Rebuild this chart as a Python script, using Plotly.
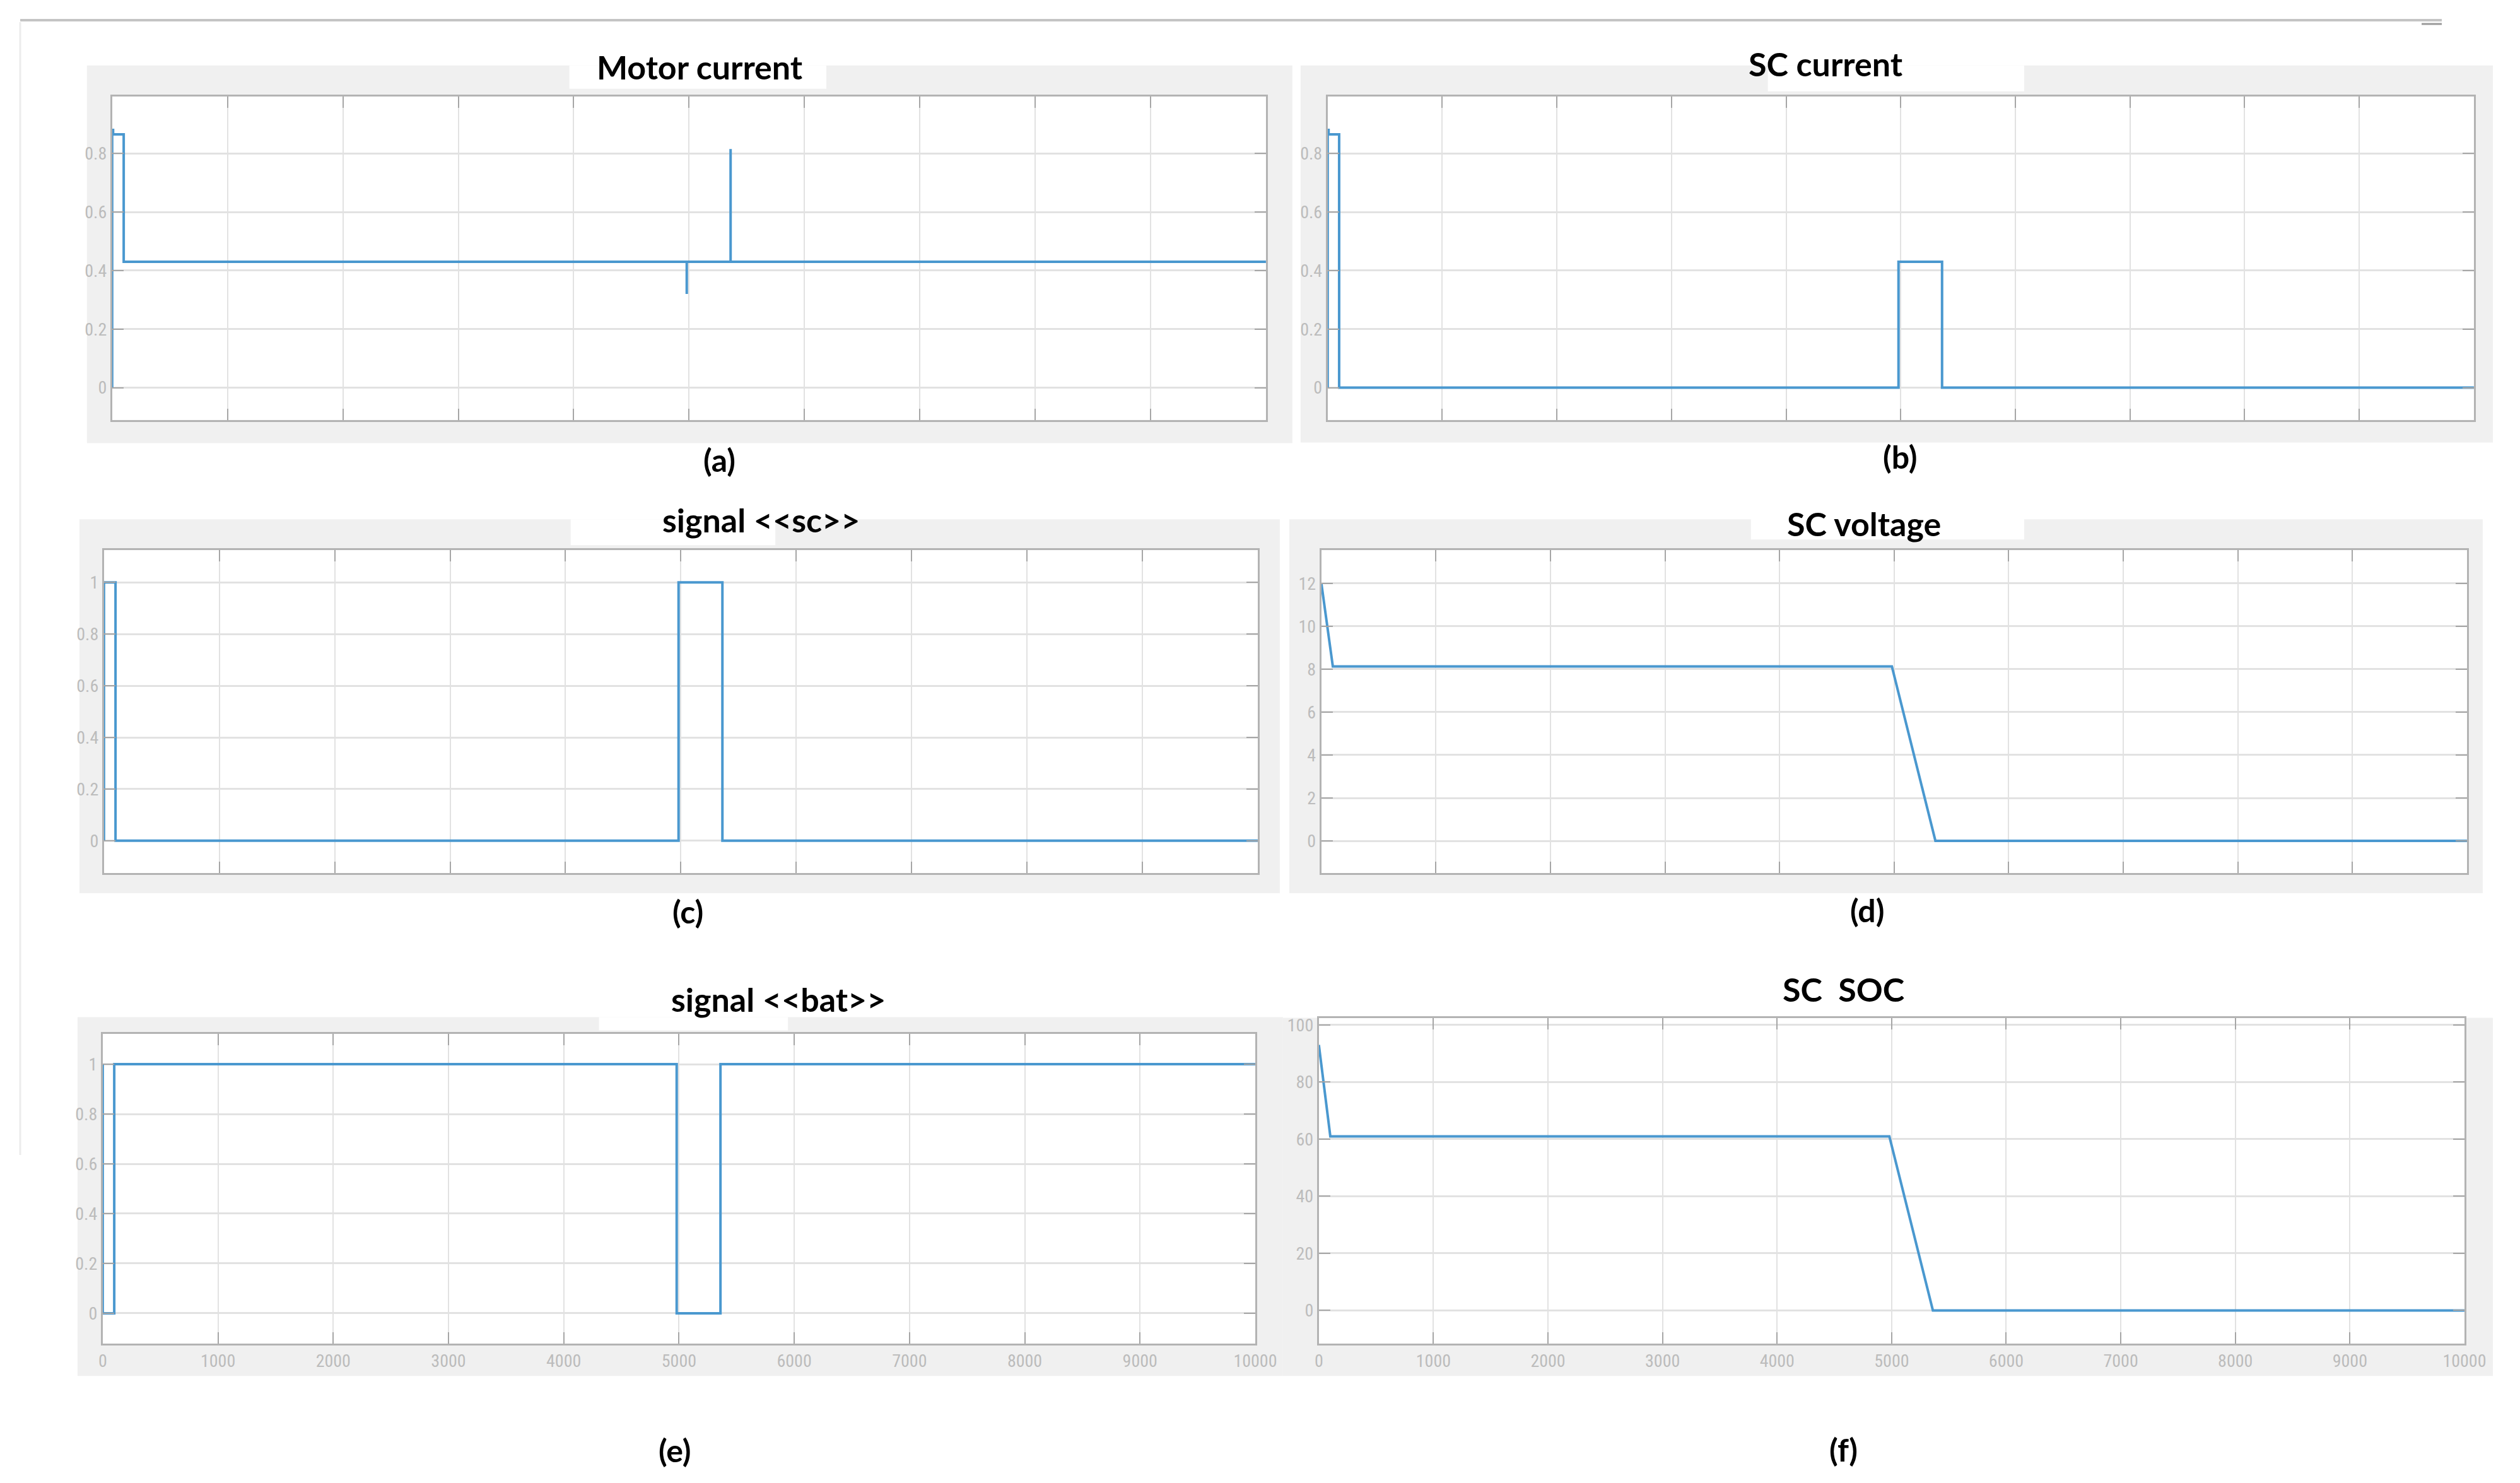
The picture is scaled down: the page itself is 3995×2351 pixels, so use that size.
import plotly.graph_objects as go

W, H = 3995, 2351
PAGE_MARGIN = 8  # default body margin of the html page
FW, FH = W - 2 * PAGE_MARGIN, H - 2 * PAGE_MARGIN
X_SQUEEZE = 0.991  # measured horizontal squeeze of the captured page

# (a) motor current
motor_t = [0, 0, 8, 8, 100, 100, 4980, 4980, 4980, 5360, 5360, 5360, 10000]
motor_i = [0, 0.88, 0.88, 0.865, 0.865, 0.43, 0.43, 0.32, 0.43, 0.43, 0.815, 0.43, 0.43]

# (b) SC current
sc_t = [0, 0, 8, 8, 100, 100, 4980, 4980, 5360, 5360, 10000]
sc_i = [0, 0.88, 0.88, 0.865, 0.865, 0, 0, 0.43, 0.43, 0, 0]

# (c) signal <<sc>>
sig_sc_t = [0, 0, 100, 100, 4980, 4980, 5360, 5360, 10000]
sig_sc = [0, 1, 1, 0, 0, 1, 1, 0, 0]

# (d) SC voltage
volt_t = [0, 100, 4980, 5360, 10000]
volt = [12, 8.13, 8.13, 0, 0]

# (e) signal <<bat>>
sig_bat_t = [0, 0, 100, 100, 4980, 4980, 5360, 5360, 10000]
sig_bat = [1, 0, 0, 1, 1, 0, 0, 1, 1]

# (f) SC SOC
soc_t = [0, 100, 4980, 5360, 10000]
soc = [93, 61, 61, 0, 0]

x_ticks = [0, 1000, 2000, 3000, 4000, 5000, 6000, 7000, 8000, 9000, 10000]
x_ticktext = [str(v) for v in x_ticks]

titles = ["Motor current", "SC current", "signal <<sc>>", "SC voltage", "signal <<bat>>", "SC  SOC"]
labels = ["(a)", "(b)", "(c)", "(d)", "(e)", "(f)"]

# pixel boxes in the picture: plot area, grey panel, title centre, label centre
panels = [
    dict(plot=(171, 148, 2003, 662), bg=(131, 99, 2045, 699), title=(1104, 101), label=(1135, 726),
         patch=(897, 99, 1305, 136), yr=[-0.11, 0.995], yt=[0, 0.2, 0.4, 0.6, 0.8], xl=False),
    dict(plot=(2101, 148, 3921, 662), bg=(2058, 99, 3972, 698), title=(2892, 96), label=(3010, 721),
         patch=(2800, 99, 3207, 140), yr=[-0.11, 0.995], yt=[0, 0.2, 0.4, 0.6, 0.8], xl=False),
    dict(plot=(158, 869, 1990, 1382), bg=(119, 820, 2025, 1414), title=(1201, 821), label=(1085, 1443),
         patch=(899, 820, 1224, 861), yr=[-0.125, 1.125], yt=[0, 0.2, 0.4, 0.6, 0.8, 1], xl=False),
    dict(plot=(2091, 869, 3910, 1382), bg=(2040, 820, 3935, 1414), title=(2953, 827), label=(2958, 1441),
         patch=(2773, 808, 3207, 852), yr=[-1.5, 13.55], yt=[0, 2, 4, 6, 8, 10, 12], xl=False),
    dict(plot=(156, 1637, 1986, 2130), bg=(116, 1611, 2030, 2181), title=(1229, 1582), label=(1065, 2299),
         patch=(944, 1611, 1244, 1632), yr=[-0.123, 1.123], yt=[0, 0.2, 0.4, 0.6, 0.8, 1], xl=True),
    dict(plot=(2087, 1612, 3906, 2130), bg=(2030, 1612, 3960, 2181), title=(2920, 1566), label=(2920, 2298),
         patch=None, yr=[-11.7, 102.5], yt=[0, 20, 40, 60, 80, 100], xl=True),
]

series = [(motor_t, motor_i), (sc_t, sc_i), (sig_sc_t, sig_sc), (volt_t, volt), (sig_bat_t, sig_bat), (soc_t, soc)]

fig = go.Figure()
shapes = []
annotations = []
layout = {}

line_color = '#4a98cf'
grid = '#e2e2e2'
tick_font = dict(family='Liberation Sans Narrow, Roboto Condensed, Roboto, sans-serif', size=28, color='#bcbcbc')
title_font = dict(family='Lato, sans-serif', size=52, color='black', weight='bold')

def fx(x):
    return min(1.0, (x / X_SQUEEZE - PAGE_MARGIN) / FW)

def fy(y):
    return 1 - (y - PAGE_MARGIN) / FH

# grey panels first, then white plot areas over them
for p in panels:
    x0, y0, x1, y1 = p['bg']
    shapes.append(dict(type='rect', xref='paper', yref='paper', x0=fx(x0), x1=fx(x1), y0=fy(y1), y1=fy(y0),
                       fillcolor='#f0f0f0', line=dict(width=0), layer='below'))
for p in panels:
    x0, y0, x1, y1 = p['plot']
    shapes.append(dict(type='rect', xref='paper', yref='paper', x0=fx(x0), x1=fx(x1), y0=fy(y1), y1=fy(y0),
                       fillcolor='white', line=dict(width=0), layer='below'))
    if p['patch']:
        a0, b0, a1, b1 = p['patch']
        shapes.append(dict(type='rect', xref='paper', yref='paper', x0=fx(a0), x1=fx(a1), y0=fy(b1), y1=fy(b0),
                           fillcolor='white', line=dict(width=0), layer='below'))

# frame lines of the screenshot
shapes.append(dict(type='line', xref='paper', yref='paper', x0=fx(25), x1=fx(3870), y0=fy(27), y1=fy(27),
                   line=dict(color='#c4c4c4', width=4)))
shapes.append(dict(type='line', xref='paper', yref='paper', x0=fx(3838), x1=fx(3870), y0=fy(33), y1=fy(33),
                   line=dict(color='#9a9a9a', width=3)))
shapes.append(dict(type='line', xref='paper', yref='paper', x0=fx(25), x1=fx(25), y0=fy(30), y1=fy(1830),
                   line=dict(color='#ececec', width=3)))

for k, (p, (t, v)) in enumerate(zip(panels, series)):
    n = '' if k == 0 else str(k + 1)
    x0, y0, x1, y1 = p['plot']
    fig.add_trace(go.Scatter(x=t, y=v, mode='lines', line=dict(color=line_color, width=4),
                             xaxis='x' + n, yaxis='y' + n, showlegend=False, hoverinfo='skip'))
    layout['xaxis' + n] = dict(
        domain=[fx(x0), fx(x1)], anchor='y' + n, range=[0, 10000], tickvals=x_ticks, ticktext=x_ticktext,
        showticklabels=p['xl'], tickfont=tick_font, showgrid=True, gridcolor=grid, gridwidth=2,
        zeroline=False, showline=True, mirror='ticks', linecolor='#b3b3b3', linewidth=3,
        ticks='inside', ticklen=18, tickwidth=2, tickcolor='#a6a6a6', fixedrange=True)
    layout['yaxis' + n] = dict(
        domain=[fy(y1), fy(y0)], anchor='x' + n, range=p['yr'], tickvals=p['yt'],
        tickfont=tick_font, showgrid=True, gridcolor=grid, gridwidth=3,
        zeroline=False, showline=True, mirror='ticks', linecolor='#b3b3b3', linewidth=3,
        ticks='inside', ticklen=18, tickwidth=2, tickcolor='#a6a6a6', fixedrange=True)
    tx, ty = p['title']
    annotations.append(dict(text=titles[k], x=fx(tx), y=fy(ty), xref='paper', yref='paper',
                            xanchor='center', yanchor='middle', showarrow=False, font=title_font))
    lx, ly = p['label']
    annotations.append(dict(text=labels[k], x=fx(lx), y=fy(ly), xref='paper', yref='paper',
                            xanchor='center', yanchor='middle', showarrow=False,
                            font=dict(family='Lato, sans-serif', size=50, color='black', weight='bold')))

fig.update_layout(
    width=FW, height=FH, autosize=False,
    margin=dict(l=0, r=0, t=0, b=0),
    paper_bgcolor='white', plot_bgcolor='white',
    shapes=shapes, annotations=annotations,
    **layout
)

fig.write_html("out.html", config={'displayModeBar': False, 'responsive': False})
